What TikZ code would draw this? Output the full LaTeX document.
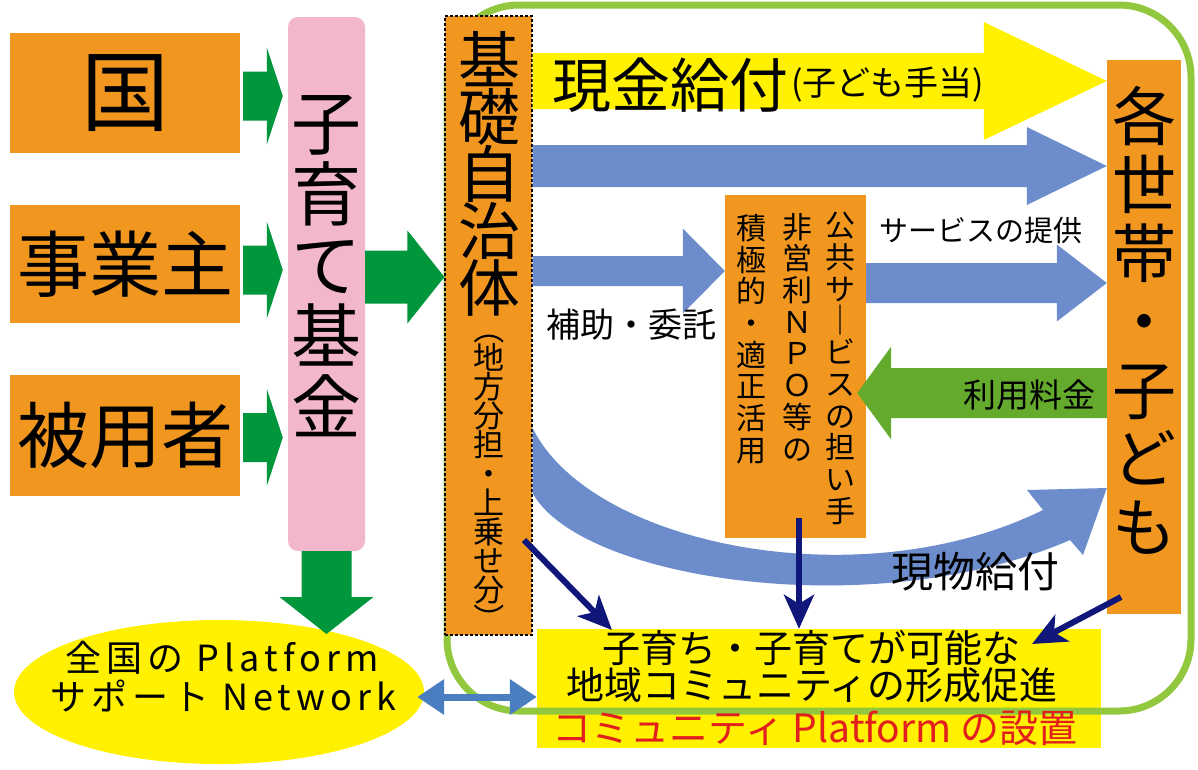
\documentclass[tikz,border=0pt]{standalone}
\usepackage{fontspec}
\setmainfont{Noto Sans CJK JP}
\newfontfamily\widefont[LetterSpace=14]{Noto Sans CJK JP}
\usepackage{graphicx}
\usetikzlibrary{arrows.meta,calc,shapes.geometric}
\definecolor{orng}{RGB}{241,151,31}
\definecolor{pinkc}{RGB}{242,183,203}
\definecolor{dgreen}{RGB}{0,150,60}
\definecolor{lgreen}{RGB}{99,170,45}
\definecolor{frameg}{RGB}{146,200,62}
\definecolor{ylw}{RGB}{255,241,0}
\definecolor{blu}{RGB}{108,140,204}
\definecolor{dblu}{RGB}{74,126,193}
\definecolor{navyc}{RGB}{16,22,122}
\definecolor{redt}{RGB}{226,30,30}
\newcommand\fs[2]{\fontsize{#1}{#2}\selectfont\lineskiplimit=-100pt\lineskip=0pt}
% horizontal block arrow: colour, start, end, shaft half, head half, head length
\newcommand\harr[6]{\fill[#1] let \p1=#2, \p2=#3, \n1={sign(\x2-\x1)} in
  (\x1,{\y1+#4}) -- ({\x2-\n1*#6},{\y1+#4}) -- ({\x2-\n1*#6},{\y1+#5}) -- (\x2,\y1)
  -- ({\x2-\n1*#6},{\y1-#5}) -- ({\x2-\n1*#6},{\y1-#4}) -- (\x1,{\y1-#4}) -- cycle;}
% vertical block arrow
\newcommand\varr[6]{\fill[#1] let \p1=#2, \p2=#3, \n1={sign(\y2-\y1)} in
  ({\x1+#4},\y1) -- ({\x1+#4},{\y2-\n1*#6}) -- ({\x1+#5},{\y2-\n1*#6}) -- (\x1,\y2)
  -- ({\x1-#5},{\y2-\n1*#6}) -- ({\x1-#4},{\y2-\n1*#6}) -- ({\x1-#4},\y1) -- cycle;}
\pgfdeclarelayer{under}
\pgfsetlayers{under,main}
\begin{document}
\begin{tikzpicture}[x=1pt,y=-1pt,
  obox/.style={fill=orng,inner sep=0pt,outer sep=0pt,align=center},
  vtxt/.style={inner sep=0pt,outer sep=0pt,align=center},
  htxt/.style={inner sep=0pt,outer sep=0pt},
  navyarr/.style={draw=navyc,line width=6pt,-{Stealth[length=34pt,width=30pt,inset=9pt]}},
  dblarr/.style={draw=dblu,line width=7pt,{Triangle[length=27pt,width=34pt]}-{Triangle[length=27pt,width=34pt]}}]
\useasboundingbox (0,0) rectangle (1198,769);

% ---------- under layer: background, bottom yellow box and green frame
\begin{pgfonlayer}{under}
\fill[white] (0,0) rectangle (1198,769);
\node[fill=ylw,inner sep=0pt,minimum width=564,minimum height=119] (yb) at (819,688.5) {};
\draw[frameg,line width=7pt,rounded corners=72pt] (447,5) rectangle (1191,711);
\end{pgfonlayer}

% ---------- boxes
\node[obox,minimum width=230,minimum height=120,font=\fs{88}{88}] (kuni) at (125,93) {国};
\node[obox,minimum width=230,minimum height=118,font=\fs{72}{72}] (jigyo) at (125,264) {事業主};
\node[obox,minimum width=230,minimum height=121,font=\fs{72}{72}] (hiyo) at (125,435.5) {被用者};
\node[fill=pinkc,rounded corners=10pt,inner sep=0pt,minimum width=77,minimum height=534] (fund) at (326.5,284) {};
\node[ellipse,fill=ylw,inner sep=0pt,minimum width=410,minimum height=144] (ell) at (219,692) {};
\node[fill=orng,draw=black,line width=1.2pt,dash pattern=on 3pt off 2pt,inner sep=0pt,
      minimum width=87,minimum height=619] (kiso) at (488.5,325.5) {};
\node[fill=orng,inner sep=0pt,minimum width=141,minimum height=343] (npo) at (795.5,366.5) {};
\node[fill=orng,inner sep=0pt,minimum width=74,minimum height=554] (kabox) at (1144,337) {};

% ---------- helper coordinates (rows of the arrows)
\coordinate (rYel) at (0,81);
\coordinate (rBlu) at (0,166);
\coordinate (rFund) at (0,277);
\coordinate (rHojo) at (0,271);
\coordinate (rServ) at (0,283);
\coordinate (rRiyo) at (0,393);
\coordinate (rDown) at (0,634);
\coordinate (rDbl) at (0,697);

% ---------- block arrows
\harr{dgreen}{($(kuni.east)+(3,3)$)}{($(fund.west |- kuni.east)+(-5,3)$)}{24.5pt}{48.5pt}{16pt}
\harr{dgreen}{($(jigyo.east)+(3,6)$)}{($(fund.west |- jigyo.east)+(-5,6)$)}{24.5pt}{48.5pt}{16pt}
\harr{dgreen}{($(hiyo.east)+(3,2)$)}{($(fund.west |- hiyo.east)+(-5,2)$)}{24.5pt}{48.5pt}{16pt}
\harr{dgreen}{(fund.east |- rFund)}{(kiso.west |- rFund)}{26.5pt}{46.5pt}{37pt}
\varr{dgreen}{(fund.south)}{(fund.south |- rDown)}{25pt}{47pt}{37pt}
\harr{ylw}{(kiso.east |- rYel)}{(kabox.west |- rYel)}{28pt}{59pt}{123pt}
\harr{blu}{(kiso.east |- rBlu)}{(kabox.west |- rBlu)}{21pt}{39pt}{80pt}
\harr{blu}{(kiso.east |- rHojo)}{(npo.west |- rHojo)}{15pt}{42.5pt}{42pt}
\harr{blu}{(npo.east |- rServ)}{(kabox.west |- rServ)}{20pt}{38.5pt}{50pt}
\harr{lgreen}{(kabox.west |- rRiyo)}{($(npo.east |- rRiyo)+(-9,0)$)}{25pt}{46.5pt}{34pt}

% ---------- curved arrow (現物給付)
\coordinate (cu0) at (kiso.east |- 0,428);
\coordinate (cl0) at (kiso.east |- 0,493);
\coordinate (ctip) at (kabox.west |- 0,488);
\fill[blu] (cu0) .. controls (590,545) and (860,600) .. (1043,510) -- (1027,490) -- (ctip)
  -- (1083,555) -- (1070,540) .. controls (875,625) and (580,580) .. (cl0) -- cycle;

% ---------- navy arrows
\coordinate (n1s) at (524,540);
\coordinate (n1e) at (612,630);
\coordinate (n2s) at (799,518);
\coordinate (n3s) at (1121,597);
\coordinate (n3e) at (1032,644);
\draw[navyarr] (n1s) -- (n1e);
\draw[navyarr] (n2s) -- (n2s |- yb.north);
\draw[navyarr] (n3s) -- (n3e);
\draw[dblarr] ($(ell.east |- rDbl)+(-7,0)$) -- (yb.west |- rDbl);

% ---------- texts
\node[vtxt,font=\fs{70}{71}] (fundt) at (326.5,266) {子\\育\\て\\基\\金};
\node[vtxt,font=\fs{62}{57}] (kisot) at (489,174) {基\\礎\\自\\治\\体};
\node[vtxt,font=\fs{31}{29}] (kisop) at (489,474)
  {\rotatebox[origin=c]{-90}{（}\\地\\方\\分\\担\\・\\上\\乗\\せ\\分\\\rotatebox[origin=c]{-90}{）}};
\node[vtxt,font=\fs{64}{68.5}] (kabt) at (1144,320) {各\\世\\帯\\・\\子\\ど\\も};
\node[vtxt,font=\fs{30}{31.7}] (npo1) at (840,368.5) {公\\共\\サ\\｜\\ビ\\ス\\の\\担\\い\\手};
\node[vtxt,font=\fs{30}{31.7}] (npo2) at (797,337) {非\\営\\利\\Ｎ\\Ｐ\\Ｏ\\等\\の};
\node[vtxt,font=\fs{30}{31.7}] (npo3) at (751,339) {積\\極\\的\\・\\適\\正\\活\\用};
\node[htxt,anchor=west,font=\fs{59}{59}] (genkin) at (552,85) {現金給付};
\node[htxt,anchor=west,font=\fs{34}{34}] (kodomo) at ($(genkin.east)+(3,0)$) {(子ども手当)};
\node[htxt,font=\fs{34}{34}] (hojo) at (631,325) {補助・委託};
\node[htxt,font=\fs{29}{29}] (serv) at (981,230) {サービスの提供};
\node[htxt,font=\fs{33}{33}] (riyo) at (1029,395) {利用料金};
\node[htxt,font=\fs{42}{42}] (genbutsu) at (975,572) {現物給付};
\node[htxt,font=\fs{38}{38}] (yb1) at (811,648) {子育ち・子育てが可能な};
\node[htxt,font=\fs{38}{38}] (yb2) at (812,685) {地域コミュニティの形成促進};
\node[htxt,font=\fs{39}{39},text=redt] (yb3) at (815,728) {コミュニティ Platform の設置};
\node[htxt,font=\widefont\fs{36}{36}] (ell1) at (222,658) {全国の Platform};
\node[htxt,font=\widefont\fs{36}{36}] (ell2) at (223,696) {サポート Network};
\end{tikzpicture}
\end{document}
